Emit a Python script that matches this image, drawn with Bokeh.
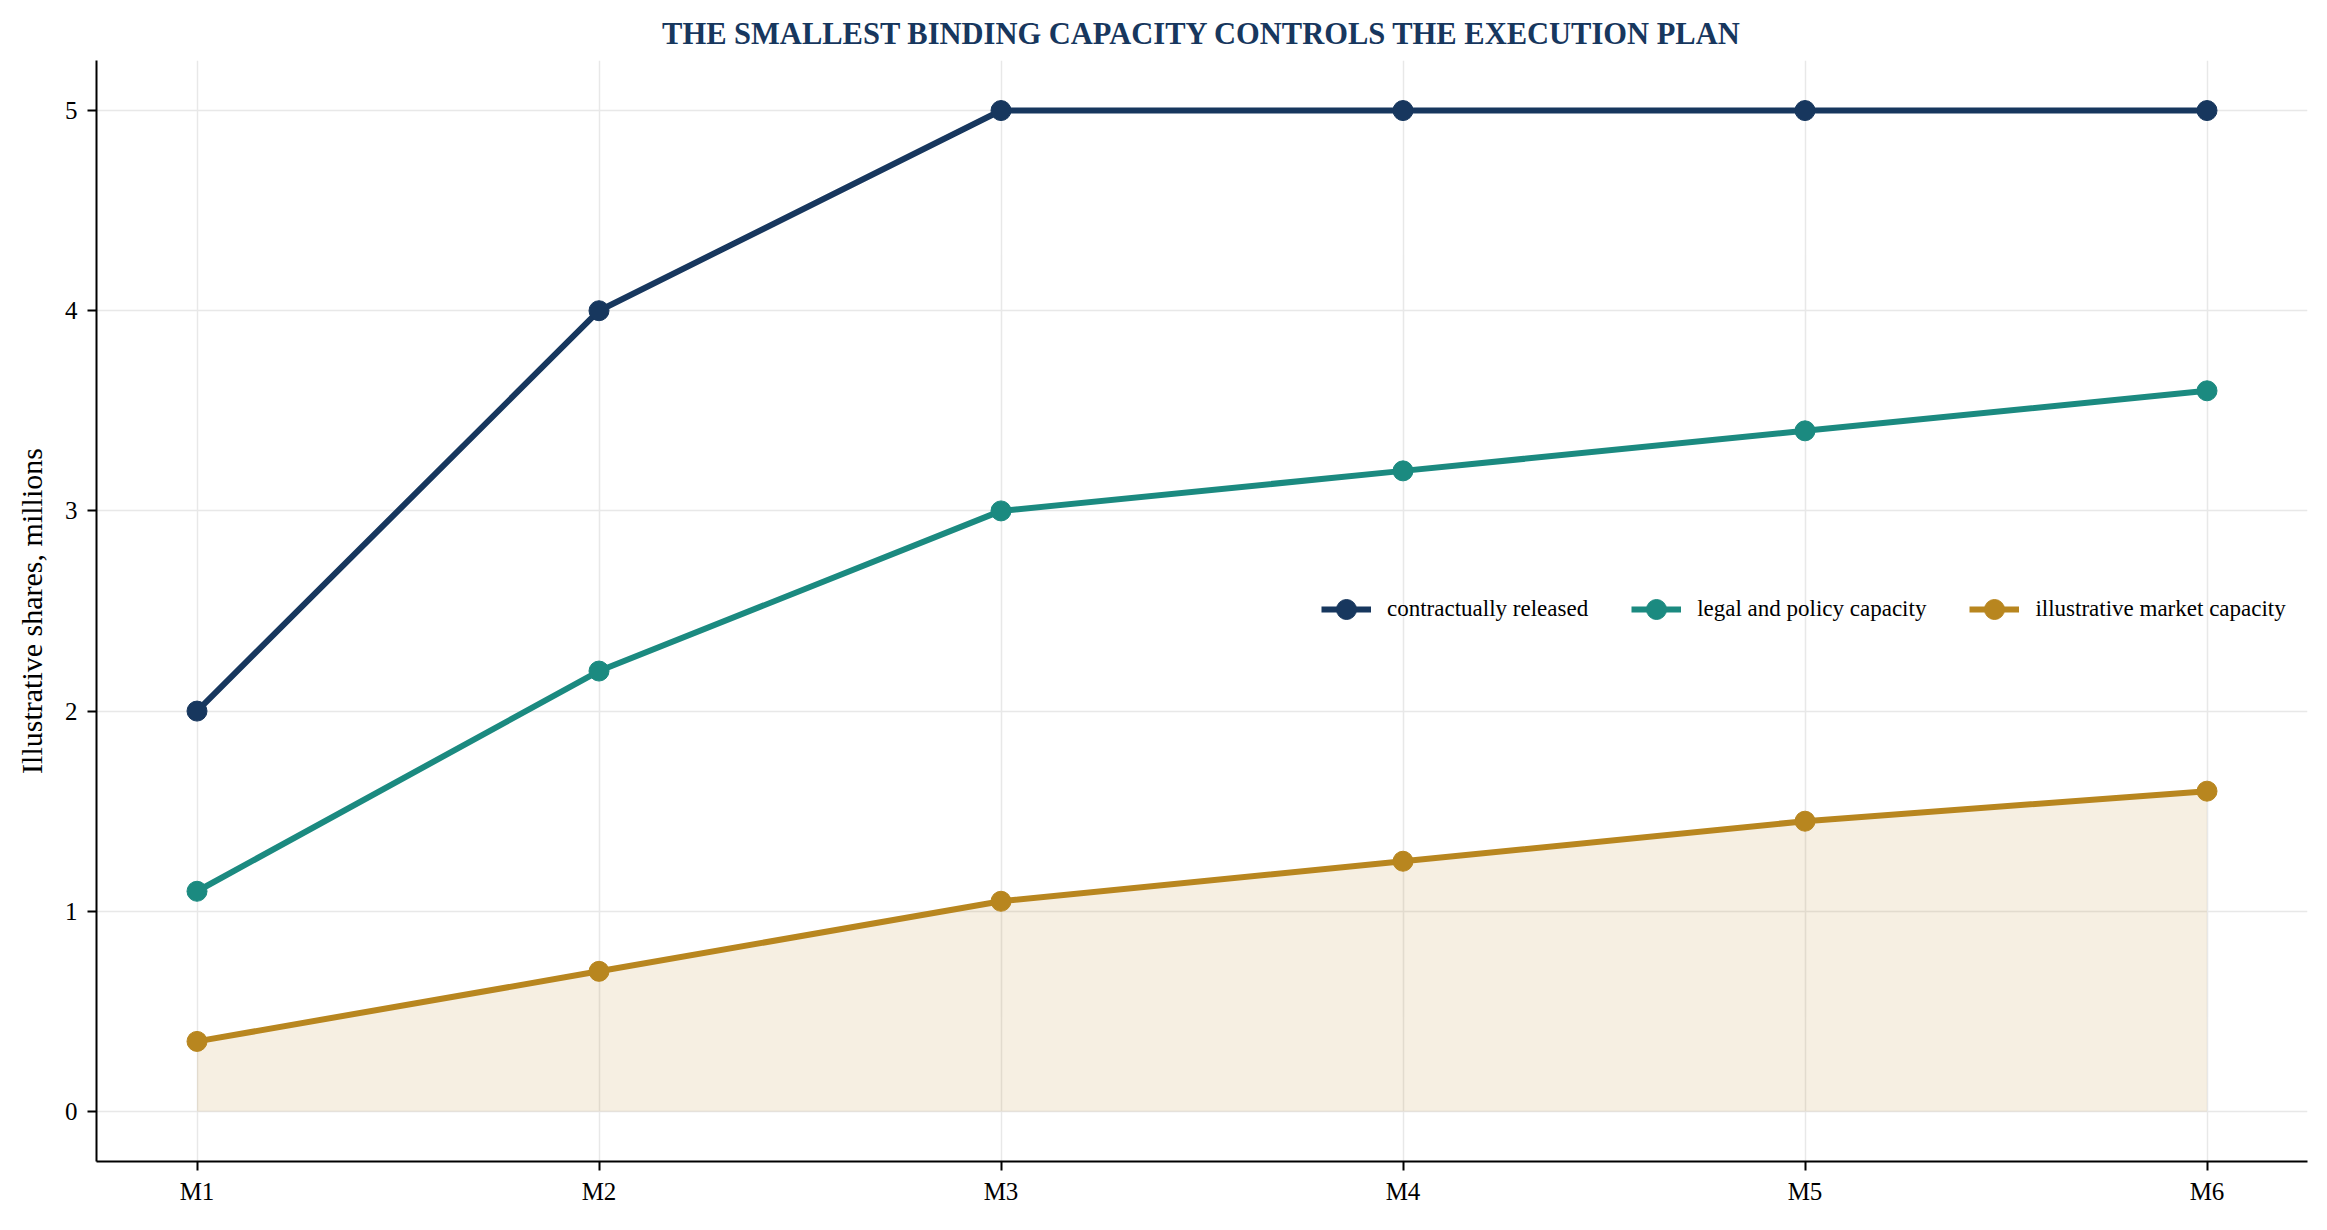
from bokeh.plotting import figure
from bokeh.models import Range1d, FixedTicker, Legend, LegendItem
from bokeh.embed import file_html
from bokeh.resources import INLINE

# ---- data ----
months = ["M1", "M2", "M3", "M4", "M5", "M6"]
contractually_released = [2.0, 4.0, 5.0, 5.0, 5.0, 5.0]
legal_policy_capacity = [1.1, 2.2, 3.0, 3.2, 3.4, 3.6]
market_capacity = [0.35, 0.70, 1.05, 1.25, 1.45, 1.60]
y_ticks = [0, 1, 2, 3, 4, 5]
series_labels = ["contractually released", "legal and policy capacity", "illustrative market capacity"]
title_text = "THE SMALLEST BINDING CAPACITY CONTROLS THE EXECUTION PLAN"
y_label = "Illustrative shares, millions"

NAVY = "#17375e"
TEAL = "#1b8a80"
GOLD = "#b8861f"
FONT = "Liberation Serif"

x = list(range(len(months)))

p = figure(width=2319, height=1222, output_backend="svg", toolbar_location=None,
           x_range=Range1d(-0.25, 5.25), y_range=Range1d(-0.25, 5.25),
           min_border_left=96, min_border_right=12, min_border_top=60, min_border_bottom=61)
p.outline_line_color = None
p.background_fill_color = "white"

# title
p.title.text = title_text
p.title.text_font = FONT
p.title.text_font_style = "bold"
p.title.text_font_size = "30.5px"
p.title.text_color = NAVY
p.title.align = "center"
p.title.standoff = 19

# grids
for g in (p.xgrid, p.ygrid):
    g.grid_line_color = "#e8e8e8"
    g.grid_line_width = 1.5

# axes
p.xaxis.ticker = FixedTicker(ticks=x)
p.xaxis.major_label_overrides = {i: m for i, m in enumerate(months)}
p.yaxis.ticker = FixedTicker(ticks=y_ticks)
p.yaxis.axis_label = y_label
for ax in (p.xaxis, p.yaxis):
    ax.axis_line_width = 2
    ax.axis_line_color = "black"
    ax.major_tick_line_width = 2
    ax.major_tick_out = 9
    ax.major_tick_in = 0
    ax.minor_tick_line_color = None
    ax.major_label_text_font = FONT
    ax.major_label_text_font_size = "25px"
    ax.major_label_text_color = "black"
    ax.major_label_standoff = 10
    ax.axis_label_text_font = FONT
    ax.axis_label_text_font_size = "30px"
    ax.axis_label_text_font_style = "normal"
    ax.axis_label_text_color = "black"
p.xaxis.major_label_standoff = 7
p.yaxis.axis_label_standoff = 14

# area under market capacity
p.varea(x=x, y1=[0] * len(x), y2=market_capacity, fill_color=GOLD, fill_alpha=0.13)

items = []
for vals, col, lab in ((contractually_released, NAVY, series_labels[0]),
                       (legal_policy_capacity, TEAL, series_labels[1]),
                       (market_capacity, GOLD, series_labels[2])):
    ln = p.line(x, vals, line_color=col, line_width=6)
    sc = p.scatter(x, vals, size=20, fill_color=col, line_color=col, marker="circle")
    items.append(LegendItem(label=lab, renderers=[ln, sc]))

legend = Legend(items=items, orientation="horizontal", location=(1225, 527),
                border_line_color=None, background_fill_alpha=0,
                label_text_font=FONT, label_text_font_size="23px",
                label_text_color="black",
                glyph_width=50, glyph_height=50, spacing=43, label_standoff=16,
                padding=0, margin=0)
p.add_layout(legend)

open("out.html", "w").write(file_html(p, INLINE))
